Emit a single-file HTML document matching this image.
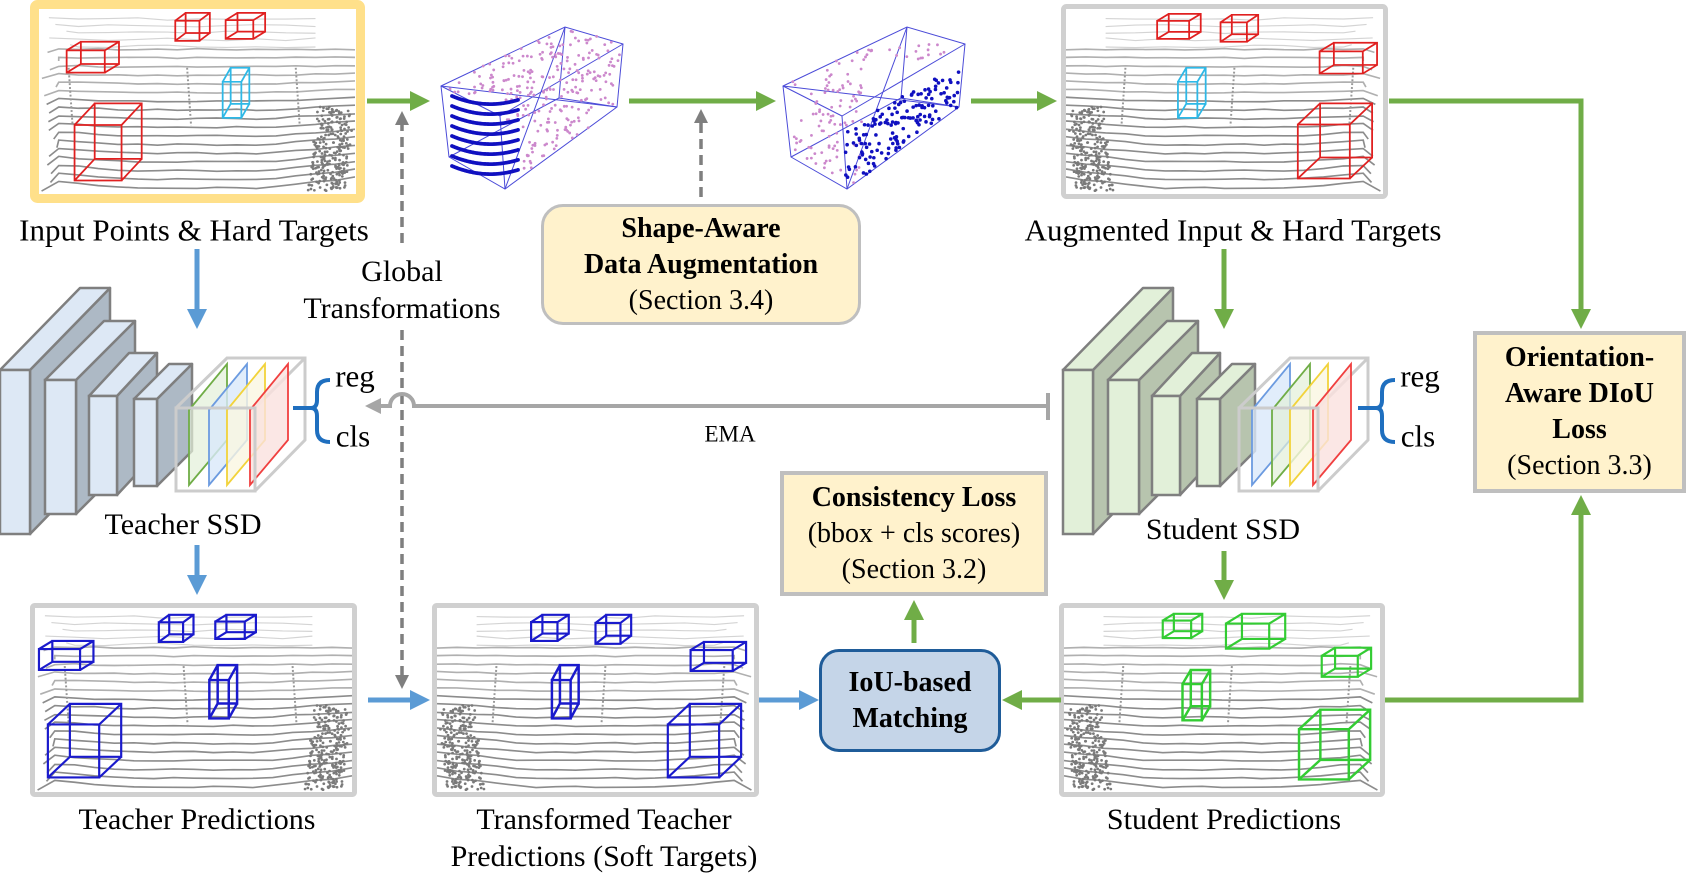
<!DOCTYPE html>
<html><head><meta charset="utf-8">
<style>
html,body{margin:0;padding:0;background:#fff;}
body{width:1686px;height:889px;position:relative;overflow:hidden;font-family:"Liberation Serif",serif;color:#000;}
.t{position:absolute;white-space:nowrap;transform:translate(-50%,-50%);font-size:29px;line-height:1;}
.box{position:absolute;box-sizing:border-box;display:flex;flex-direction:column;justify-content:center;align-items:center;text-align:center;font-size:28px;line-height:36px;}
.b{font-weight:bold;}
svg{position:absolute;left:0;top:0;}
</style></head><body>
<svg id="main" width="1686" height="889" viewBox="0 0 1686 889">
<defs>
<marker id="ag" markerWidth="4" markerHeight="4" refX="2" refY="2" orient="auto" markerUnits="strokeWidth"><path d="M0,0 L4,2 L0,4 Z" fill="#70AD47"/></marker>
<marker id="ab" markerWidth="4" markerHeight="4" refX="2" refY="2" orient="auto" markerUnits="strokeWidth"><path d="M0,0 L4,2 L0,4 Z" fill="#5B9BD5"/></marker>
<marker id="ad" markerWidth="4" markerHeight="4" refX="2" refY="2" orient="auto" markerUnits="strokeWidth"><path d="M0,0 L4,2 L0,4 Z" fill="#7F7F7F"/></marker>
<marker id="ae" markerWidth="4" markerHeight="4" refX="2" refY="2" orient="auto" markerUnits="strokeWidth"><path d="M0,0 L4,2 L0,4 Z" fill="#A6A6A6"/></marker>
</defs>
<rect x="34.5" y="4.5" width="326" height="194" rx="3" fill="#fff" stroke="#FFE08A" stroke-width="9"/>
<rect x="1063.5" y="6.5" width="322" height="190" rx="3" fill="#fff" stroke="#D0D0D0" stroke-width="5"/>
<rect x="32.5" y="605.5" width="322" height="189" rx="2" fill="#fff" stroke="#D0D0D0" stroke-width="5"/>
<rect x="434.5" y="605.5" width="322" height="189" rx="2" fill="#fff" stroke="#D0D0D0" stroke-width="5"/>
<rect x="1061.5" y="605.5" width="321" height="189" rx="2" fill="#fff" stroke="#D0D0D0" stroke-width="5"/>
<g id="scenes"></g>
<g id="pc"></g>
<g fill="none" stroke="#70AD47" stroke-width="5">
<line x1="367" y1="101" x2="420" y2="101" marker-end="url(#ag)"/>
<line x1="629" y1="101" x2="766" y2="101" marker-end="url(#ag)"/>
<line x1="971" y1="101" x2="1047" y2="101" marker-end="url(#ag)"/>
<polyline points="1389,101 1581,101 1581,319" marker-end="url(#ag)"/>
<line x1="1224" y1="249" x2="1224" y2="319" marker-end="url(#ag)"/>
<line x1="1224" y1="551" x2="1224" y2="590" marker-end="url(#ag)"/>
<line x1="1061" y1="700" x2="1012" y2="700" marker-end="url(#ag)"/>
<line x1="914" y1="643" x2="914" y2="610" marker-end="url(#ag)"/>
<polyline points="1385,700 1581,700 1581,505" marker-end="url(#ag)"/>
</g>
<g fill="none" stroke="#5B9BD5" stroke-width="5">
<line x1="197" y1="249" x2="197" y2="319" marker-end="url(#ab)"/>
<line x1="197" y1="545" x2="197" y2="585" marker-end="url(#ab)"/>
<line x1="368" y1="700" x2="420" y2="700" marker-end="url(#ab)"/>
<line x1="759" y1="700" x2="809" y2="700" marker-end="url(#ab)"/>
</g>
<g fill="none" stroke="#7F7F7F" stroke-width="3.5" stroke-dasharray="10,6">
<line x1="402" y1="243" x2="402" y2="118" marker-end="url(#ad)"/>
<line x1="402" y1="330" x2="402" y2="682" marker-end="url(#ad)"/>
<line x1="701" y1="197" x2="701" y2="116" marker-end="url(#ad)"/>
</g>
<g fill="none" stroke="#A6A6A6" stroke-width="4">
<path d="M1048,406 L414,406 A12,12 0 0 0 390,406 L373,406" marker-end="url(#ae)"/>
<line x1="1048" y1="393" x2="1048" y2="420"/>
</g>
<g id="ssd"></g>
<g fill="none" stroke="#1F6FBF" stroke-width="4">
<path d="M293,408 H312 M330,380 Q317,380 317,392 V400 Q317,408 311,408 Q317,408 317,416 V430 Q317,442 330,442"/>
<path d="M1358,408 H1377 M1395,380 Q1382,380 1382,392 V400 Q1382,408 1376,408 Q1382,408 1382,416 V430 Q1382,442 1395,442"/>
</g>
</svg>

<div class="t" style="left:194px;top:230px;font-size:31px;">Input Points &amp; Hard Targets</div>
<div class="t" style="left:402px;top:272px;font-size:30px;">Global</div>
<div class="t" style="left:402px;top:309px;font-size:30px;">Transformations</div>
<div class="t" style="left:1233px;top:230px;font-size:31px;">Augmented Input &amp; Hard Targets</div>
<div class="t" style="left:355px;top:376px;font-size:31px;">reg</div>
<div class="t" style="left:353px;top:436px;font-size:31px;">cls</div>
<div class="t" style="left:1420px;top:376px;font-size:31px;">reg</div>
<div class="t" style="left:1418px;top:436px;font-size:31px;">cls</div>
<div class="t" style="left:183px;top:525px;font-size:30px;">Teacher SSD</div>
<div class="t" style="left:1223px;top:530px;font-size:30px;">Student SSD</div>
<div class="t" style="left:730px;top:434px;font-size:23px;">EMA</div>
<div class="t" style="left:197px;top:820px;font-size:30px;">Teacher Predictions</div>
<div class="t" style="left:604px;top:820px;font-size:30px;">Transformed Teacher</div>
<div class="t" style="left:604px;top:857px;font-size:30px;">Predictions (Soft Targets)</div>
<div class="t" style="left:1224px;top:820px;font-size:30px;">Student Predictions</div>

<div class="box" style="left:541px;top:204px;width:320px;height:121px;background:#FFF2CC;border:3px solid #BFBFBF;border-radius:22px;">
<div class="b">Shape-Aware</div><div class="b">Data Augmentation</div><div>(Section 3.4)</div></div>
<div class="box" style="left:1473px;top:331px;width:213px;height:162px;background:#FFF2CC;border:4px solid #BFBFBF;line-height:36px;">
<div class="b">Orientation-</div><div class="b">Aware DIoU</div><div class="b">Loss</div><div>(Section 3.3)</div></div>
<div class="box" style="left:780px;top:471px;width:268px;height:125px;background:#FFF2CC;border:4px solid #BFBFBF;">
<div class="b">Consistency Loss</div><div>(bbox + cls scores)</div><div>(Section 3.2)</div></div>
<div class="box" style="left:819px;top:649px;width:182px;height:103px;background:#C5D5E8;border:3px solid #1F5C99;border-radius:20px;">
<div class="b">IoU-based</div><div class="b">Matching</div></div>

<script>
var NS="http://www.w3.org/2000/svg";
function el(p,tag,a){var e=document.createElementNS(NS,tag);for(var k in a)e.setAttribute(k,a[k]);p.appendChild(e);return e;}
var seed=7;function rnd(){seed=(seed*16807)%2147483647;return (seed-1)/2147483646;}
function box(g,x,y,w,h,c,sw){var dx=Math.min(w*0.3,h*0.45),dy=h*0.28;var fw=w-dx,fh=h-dy;
 var p="M"+x+","+(y+dy)+"h"+fw+"v"+fh+"h"+(-fw)+"z M"+(x+dx)+","+y+"h"+fw+"v"+fh+"h"+(-fw)+"z M"+x+","+(y+dy)+"l"+dx+","+(-dy)+" M"+(x+fw)+","+(y+dy)+"l"+dx+","+(-dy)+" M"+x+","+(y+h)+"l"+dx+","+(-dy)+" M"+(x+fw)+","+(y+h)+"l"+dx+","+(-dy);
 el(g,"path",{d:p,fill:"none",stroke:c,"stroke-width":sw||1.8});}
function scene(x,y,w,h,flip,boxes){
 var sv=el(document.getElementById("scenes"),"svg",{x:x,y:y,width:w,height:h,viewBox:"0 0 320 190",preserveAspectRatio:"none"});
 var g=el(sv,"g",flip?{transform:"translate(320,0) scale(-1,1)"}:{});
 seed=11;
 for(var i=0;i<5;i++){var yy=8+i*7;var d="M"+(10+rnd()*30)+","+yy;for(var xx=40;xx<310;xx+=30)d+=" L"+xx+","+(yy+rnd()*3);el(g,"path",{d:d,fill:"none",stroke:"#d4d4d4","stroke-width":1.2});}
 for(var i=0;i<17;i++){var yy=40+i*9;var d="M"+(rnd()*20)+","+(yy+4);for(var xx=20;xx<=320;xx+=20){var off=(xx<90?-(90-xx)*0.04:0)+(xx>230?-(xx-230)*0.05:0);d+=" L"+xx+","+(yy+off*i*0.15+rnd()*1.5);}
  el(g,"path",{d:d,fill:"none",stroke:i<6?"#b0b0b0":"#8c8c8c","stroke-width":1.7});}
 for(var k=0;k<3;k++){var px=[30,150,260][k];el(g,"line",{x1:px,y1:60,x2:px+4,y2:120,stroke:"#999","stroke-width":2,"stroke-dasharray":"2,2"});}
 for(var i=0;i<260;i++){var a=rnd(),b=rnd();var cx=282+a*38-b*10,cy=100+b*88;el(g,"circle",{cx:cx,cy:cy,r:1.4,fill:"#7a7a7a"});}
 var bg=el(sv,"g",{});
 boxes.forEach(function(b){box(bg,b[0],b[1],b[2],b[3],b[4],b[5]);});
}
var R="#E02020",C="#2EB8E6",B="#1A1ACC",G="#33CC33";
scene(39,10,316,183,false,[[138,3,35,29,R],[189,3,40,27,R],[28,33,53,32,R],[186,60,27,52,C],[36,97,68,80,R]]);
scene(1066,10,317,183,true,[[92,4,44,26,R],[156,5,38,28,R],[256,34,58,32,R],[113,60,28,52,C],[234,97,75,78,R]]);
scene(35,608,317,184,false,[[125,7,35,28,B,2.2],[182,7,41,25,B,2.2],[4,34,55,30,B,2.2],[176,59,28,55,B,2.5],[13,99,74,76,B,2.2]]);
scene(437,608,317,184,true,[[95,7,38,27,B,2.2],[160,7,36,30,B,2.2],[256,35,56,30,B,2.2],[116,59,27,55,B,2.5],[233,99,74,76,B,2.2]]);
scene(1064,608,316,184,true,[[100,6,40,25,G,2.2],[164,6,60,36,G,2.2],[261,41,50,30,G,2.2],[120,64,28,52,G,2.5],[238,105,72,72,G,2.5]]);

(function(){var pc=document.getElementById("pc");
 function inPoly(x,y,P){var c=false;for(var i=0,j=P.length-1;i<P.length;j=i++){if(((P[i][1]>y)!=(P[j][1]>y))&&(x<(P[j][0]-P[i][0])*(y-P[i][1])/(P[j][1]-P[i][1])+P[i][0]))c=!c;}return c;}
 function pbox(ox,first){
  var g=el(pc,"g",{transform:"translate("+ox+",0)"});
  var s="#4B4BD8";
  var A=[441,86],Bv=[565,27],Cv=[623,44],D=[617,107],E=[505,189],F=[449,157],Gv=[500,116],H=[559,98];
  var P=[A,Bv,Cv,D,E,F];
  el(g,"polygon",{points:P.map(function(p){return p.join(",")}).join(" "),fill:"none",stroke:s,"stroke-width":1});
  function L(p,q){el(g,"line",{x1:p[0],y1:p[1],x2:q[0],y2:q[1],stroke:s,"stroke-width":1});}
  L(A,Gv);L(Gv,Cv);L(Gv,E);L(Bv,H);L(H,F);L(H,D);L(A,D);L(Bv,E);
  seed=first?5:9;
  var n=0;
  while(n<(first?260:120)){var x=450+rnd()*170,y=30+rnd()*155;if(!inPoly(x,y,P))continue;
   if(first){ if(x<505&&y>95) continue; if(y>-0.5*(x-450)+150 && x<520)continue; }
   else { if(x>520 && y>60) continue; }
   el(g,"circle",{cx:x,cy:y,r:1.4,fill:"#CC88CC"});n++;}
  if(first){for(var j=0;j<8;j++){for(var t=0;t<45;t++){var x=452+t*1.5,y=102+j*10-Math.pow((t-22)/22,2)*6+(t/45)*4;el(g,"circle",{cx:x,cy:y,r:1.9,fill:"#1010C0"});}}}
  else{n=0;while(n<150){var x=500+rnd()*120,y=60+rnd()*120;if(!inPoly(x,y,P))continue;if(y<-0.55*(x-500)+130)continue;el(g,"circle",{cx:x,cy:y,r:1.8,fill:"#1010C0"});n++;}}
 }
 pbox(0,true);pbox(342,false);
})();

(function(){var g=document.getElementById("ssd");
 function ssd(ox,front,side,order){
  var blocks=[[0,30,370,534,80,82],[45,76,380,514,59,59],[89,117,396,495,40,43],[134,157,399,486,35,35]];
  blocks.forEach(function(b){var x1=ox+b[0],x2=ox+b[1],y1=b[2],y2=b[3],dx=b[4],dy=b[5];
   el(g,"polygon",{points:[x2,y1,x2+dx,y1-dy,x2+dx,y2-dy,x2,y2].join(","),fill:side,stroke:"#7F7F7F","stroke-width":2.5,"stroke-linejoin":"round"});
   el(g,"polygon",{points:[x1,y1,x1+dx,y1-dy,x2+dx,y1-dy,x2,y1].join(","),fill:front,stroke:"#7F7F7F","stroke-width":2.5,"stroke-linejoin":"round"});
   el(g,"rect",{x:x1,y:y1,width:x2-x1,height:y2-y1,fill:front,stroke:"#7F7F7F","stroke-width":2.5});
  });
  var cx=ox+176;
  el(g,"path",{d:"M"+cx+",408 l51,-50 h78 v82 l-50,51 M"+(cx+79)+",408 l50,-50",fill:"none",stroke:"#CCCCCC","stroke-width":3});
  var cols={g:["#70AD47","rgba(226,240,217,0.7)"],b:["#6C9BE0","rgba(218,232,250,0.8)"],y:["#F2D33B","rgba(250,246,225,0.8)"],r:["#F04040","rgba(250,225,222,0.8)"]};
  var xs=[13,33,51,74];
  order.forEach(function(c,i){var x=cx+xs[i];el(g,"polygon",{points:[x,485,x,410,x+38,364,x+38,440].join(","),fill:cols[c][1],stroke:cols[c][0],"stroke-width":1.8});});
  el(g,"path",{d:"M"+cx+",408 h79 v83 h-79 z",fill:"none",stroke:"#CCCCCC","stroke-width":3});
 }
 ssd(0,"#DDE8F5","#ADB9C5",["g","b","y","r"]);
 ssd(1063,"#E2F0D9","#B7C4AE",["b","g","y","r"]);
})();
</script>
</body></html>
